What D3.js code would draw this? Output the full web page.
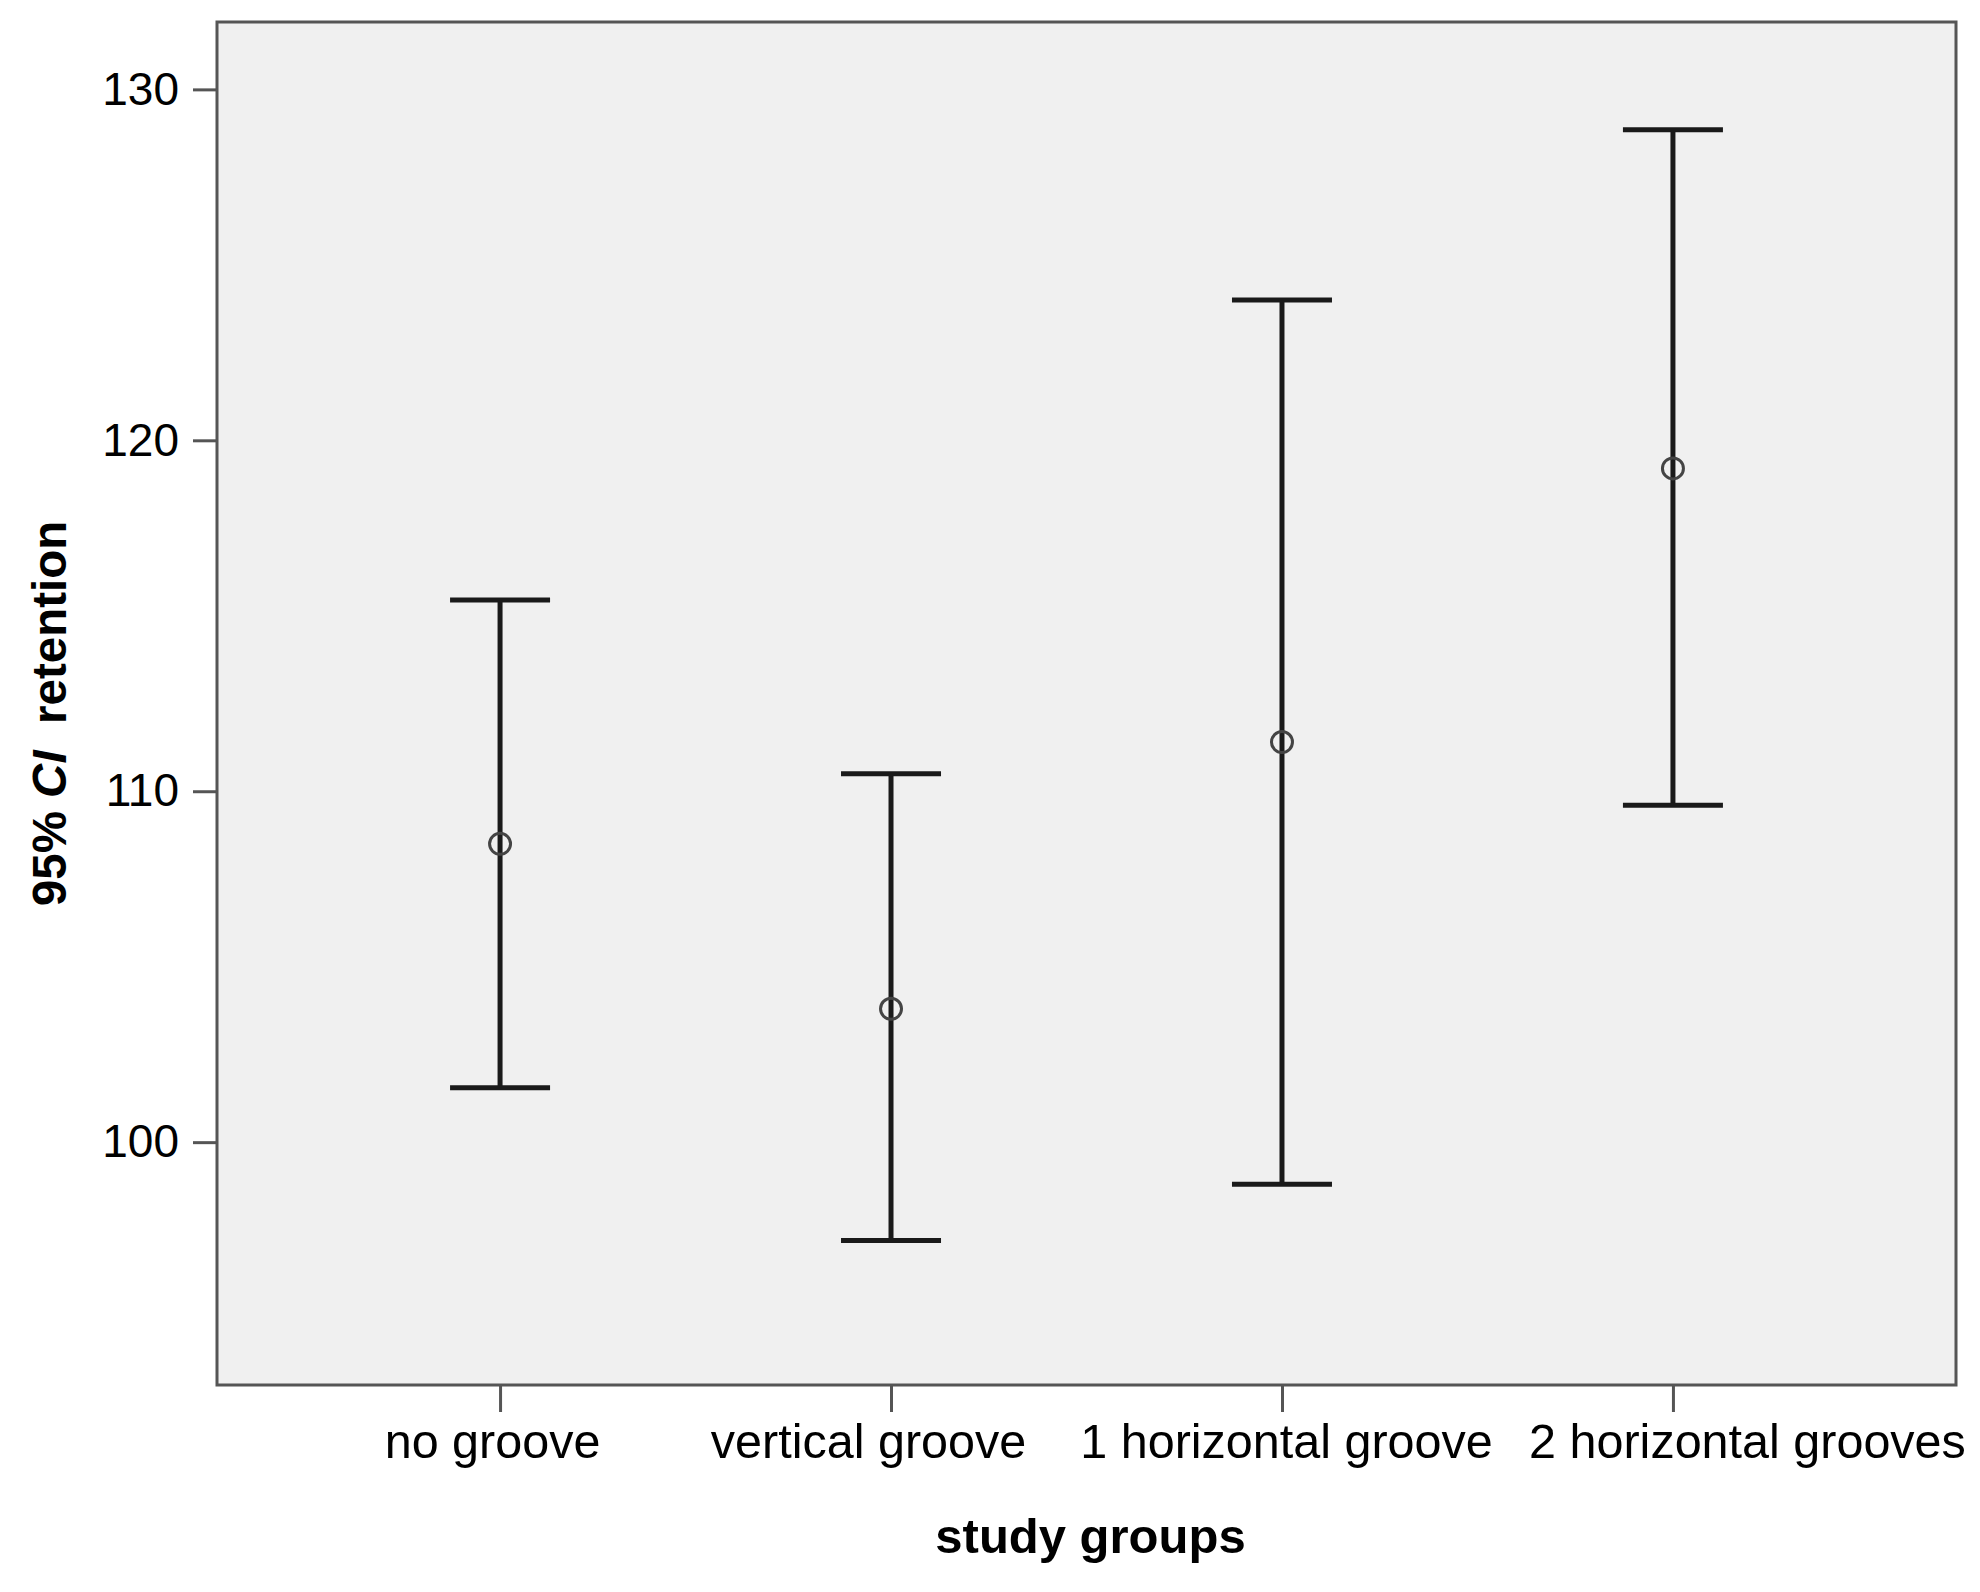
<!DOCTYPE html>
<html>
<head>
<meta charset="utf-8">
<script src="https://cdn.jsdelivr.net/npm/d3@7"></script>
<style>
  body { margin: 0; background: #fff; }
  text { font-family: "Liberation Sans", Arial, sans-serif; fill: #000; }
</style>
</head>
<body>
<div id="chart"></div>
<script>
// data
const groups = ["no groove", "vertical groove", "1 horizontal groove", "2 horizontal grooves"];
const means = [108.5, 103.8, 111.4, 119.2];
const lower = [101.55, 97.2, 98.8, 109.6];
const upper = [115.45, 110.5, 124.0, 128.85];
const yTicks = [100, 110, 120, 130];

const width = 1980, height = 1592;
const margin = {top: 22, right: 24, bottom: 207, left: 217};
const plotW = width - margin.left - margin.right;
const plotH = height - margin.top - margin.bottom;

let svg = d3.select("#chart")
    .append("svg")
    .attr("width", width)
    .attr("height", height);

let g = svg.append("g")
    .attr("transform", `translate(${margin.left}, ${margin.top})`);

// scales
const x = d3.scalePoint()
    .domain(groups)
    .range([0, plotW])
    .padding(0.724);

const y = d3.scaleLinear()
    .domain([93.08, 131.92])
    .range([plotH, 0]);

// plot background
g.append("rect")
    .attr("width", plotW)
    .attr("height", plotH)
    .attr("fill", "#f0f0f0");

// y axis ticks + labels
let yAxis = g.append("g")
    .call(d3.axisLeft(y).tickValues(yTicks).tickSize(24).tickPadding(14));
yAxis.select(".domain").remove();
yAxis.selectAll(".tick line").attr("stroke", "#555").attr("stroke-width", 3);
yAxis.selectAll(".tick text")
    .style("font-size", "46px")
    .attr("fill", "#000");

// x axis ticks + labels
let xAxis = g.append("g")
    .attr("transform", `translate(0, ${plotH})`)
    .call(d3.axisBottom(x).tickSize(27).tickPadding(12));
xAxis.select(".domain").remove();
xAxis.selectAll(".tick line").attr("stroke", "#555").attr("stroke-width", 3);
// the original nudges labels sideways so they don't collide
const labelShift = [-8, -23, 4, 74];
xAxis.selectAll(".tick text")
    .style("font-size", "48.5px")
    .attr("fill", "#000")
    .attr("dx", (d, i) => labelShift[i]);

// frame
g.append("rect")
    .attr("width", plotW)
    .attr("height", plotH)
    .attr("fill", "none")
    .attr("stroke", "#555")
    .attr("stroke-width", 3);

// error bars
const capHalf = 50;
let bars = g.selectAll(".bar")
    .data(groups)
    .enter()
    .append("g")
    .attr("class", "bar");

bars.append("line")
    .attr("x1", d => x(d)).attr("x2", d => x(d))
    .attr("y1", (d, i) => y(upper[i])).attr("y2", (d, i) => y(lower[i]))
    .attr("stroke", "#1a1a1a").attr("stroke-width", 5);

bars.append("line")
    .attr("x1", d => x(d) - capHalf).attr("x2", d => x(d) + capHalf)
    .attr("y1", (d, i) => y(upper[i])).attr("y2", (d, i) => y(upper[i]))
    .attr("stroke", "#1a1a1a").attr("stroke-width", 5);

bars.append("line")
    .attr("x1", d => x(d) - capHalf).attr("x2", d => x(d) + capHalf)
    .attr("y1", (d, i) => y(lower[i])).attr("y2", (d, i) => y(lower[i]))
    .attr("stroke", "#1a1a1a").attr("stroke-width", 5);

// mean markers (hollow rings, the bar shows through)
bars.append("circle")
    .attr("cx", d => x(d))
    .attr("cy", (d, i) => y(means[i]))
    .attr("r", 10.5)
    .attr("fill", "none")
    .attr("stroke", "#444")
    .attr("stroke-width", 3);

// axis titles
svg.append("text")
    .attr("x", margin.left + plotW / 2 + 4)
    .attr("y", 1553)
    .attr("text-anchor", "middle")
    .style("font-size", "49px")
    .style("font-weight", "bold")
    .text("study groups");

let yTitle = svg.append("text")
    .attr("transform", `translate(66, ${margin.top + plotH / 2 + 10}) rotate(-90)`)
    .attr("text-anchor", "middle")
    .style("font-size", "47.5px")
    .style("font-weight", "bold");
yTitle.append("tspan").text("95% ");
yTitle.append("tspan").style("font-style", "italic").text("CI");
yTitle.append("tspan").attr("xml:space", "preserve").text("  retention");
</script>
</body>
</html>
